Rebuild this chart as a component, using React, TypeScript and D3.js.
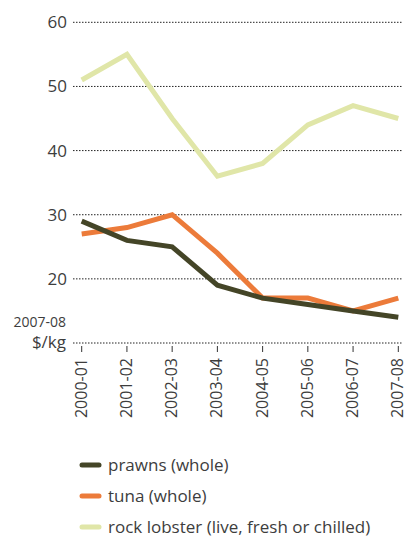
import React from "react";
import * as d3 from "d3";

const years = ["2000-01", "2001-02", "2002-03", "2003-04", "2004-05", "2005-06", "2006-07", "2007-08"];
const prawns = [29, 26, 25, 19, 17, 16, 15, 14];
const tuna = [27, 28, 30, 24, 17, 17, 15, 17];
const rockLobster = [51, 55, 45, 36, 38, 44, 47, 45];
const yTicks = [20, 30, 40, 50, 60];

const seriesNames = ["prawns (whole)", "tuna (whole)", "rock lobster (live, fresh or chilled)"];
const seriesColors = ["#444527", "#ec7b3a", "#e0e6a8"];
const seriesData = [prawns, tuna, rockLobster];

export default function App() {
  const W = 407, H = 538;
  const x = d3.scalePoint<string>().domain(years).range([81.7, 398.3]);
  const y = d3.scaleLinear().domain([10, 60]).range([343, 22.3]);
  const line = d3.line<number>().x((_, i) => x(years[i])!).y((d) => y(d));
  const font = "'Open Sans', 'Noto Sans', sans-serif";
  const textColor = "#3d3d3d";
  const drawOrder = [2, 1, 0];
  return (
    <svg width={W} height={H} style={{ position: "absolute", left: 0, top: 0 }} fontFamily={font}>
      {[10, ...yTicks].map((t) => (
        <line key={t} x1={73} x2={403} y1={y(t)} y2={y(t)} stroke="#222" strokeWidth={1} strokeDasharray="1.5,1.5" />
      ))}
      {yTicks.map((t) => (
        <text key={t} x={67} y={y(t)} dy="0.35em" textAnchor="end" fontSize={17} fill={textColor}>{t}</text>
      ))}
      <text x={66} y={327} textAnchor="end" fontSize={14} fill={textColor}>2007-08</text>
      <text x={66} y={348} textAnchor="end" fontSize={17} fill={textColor}>$/kg</text>
      {years.map((yr) => (
        <g key={yr}>
          <line x1={x(yr)!} x2={x(yr)!} y1={346} y2={352} stroke="#333" strokeWidth={1} />
          <text transform={`translate(${x(yr)! + 5},358) rotate(-90)`} textAnchor="end" fontSize={16} fill={textColor}>{yr}</text>
        </g>
      ))}
      {drawOrder.map((i) => (
        <path key={i} d={line(seriesData[i])!} fill="none" stroke={seriesColors[i]} strokeWidth={5} strokeLinejoin="miter" />
      ))}
      {seriesNames.map((n, i) => (
        <g key={n}>
          <line x1={82} x2={99} y1={465 + i * 31} y2={465 + i * 31} stroke={seriesColors[i]} strokeWidth={5} strokeLinecap="round" />
          <text x={108} y={465 + i * 31} dy="0.35em" fontSize={17} fill={textColor}>{n}</text>
        </g>
      ))}
    </svg>
  );
}
